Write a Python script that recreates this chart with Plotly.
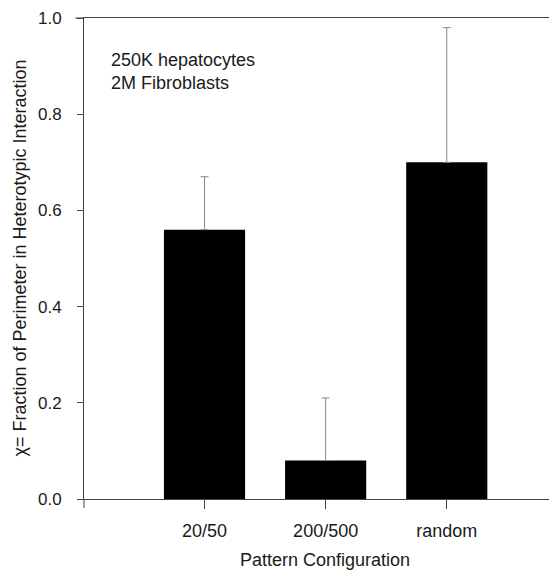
import plotly.graph_objects as go

categories = ["20/50", "200/500", "random"]
chi_values = [0.56, 0.08, 0.70]
chi_err_upper = [0.11, 0.13, 0.28]
y_ticks = [0.0, 0.2, 0.4, 0.6, 0.8, 1.0]
y_tick_labels = ["0.0", "0.2", "0.4", "0.6", "0.8", "1.0"]

FONT = "Liberation Sans, Arial, Helvetica, sans-serif"
AX = "#444444"
TXT = "#1a1a1a"

# page has an 8px body margin; figure is sized so the plot lands where the reference has it
W, H = 549, 562
ML, MT, MB, MR = 76, 10, 71, 0
PW, PH = W - ML - MR, H - MT - MB

xpos = list(range(len(categories)))

fig = go.Figure()
fig.add_trace(go.Bar(
    x=xpos, y=chi_values, width=0.67,
    marker=dict(color="black", line=dict(width=0)),
    error_y=dict(type="data", symmetric=False, array=chi_err_upper,
                 arrayminus=[0] * len(chi_values),
                 color="#8a8a8a", thickness=1, width=4),
    showlegend=False,
))

fig.update_layout(
    width=W, height=H,
    margin=dict(l=ML, r=MR, t=MT, b=MB, pad=0),
    plot_bgcolor="white", paper_bgcolor="white",
    font=dict(family=FONT, size=18, color=TXT),
    xaxis=dict(range=[-0.995, 2.91], tickmode="array", tickvals=xpos,
               ticktext=categories, ticks="outside", ticklen=9,
               ticklabelstandoff=6,
               tickcolor=AX, showline=True, linecolor=AX, linewidth=1,
               mirror=True, showgrid=False, zeroline=False,
               tickfont=dict(size=18)),
    yaxis=dict(range=[0, 1.0], tickmode="array", tickvals=y_ticks,
               ticktext=y_tick_labels, ticks="outside", ticklen=6,
               ticklabelstandoff=12,
               tickcolor=AX, showline=True, linecolor=AX, linewidth=1,
               showgrid=False, zeroline=False, tickfont=dict(size=17)),
)

# left-edge tick extending below the x axis
fig.add_shape(type="line", xref="paper", yref="paper", x0=0, x1=0,
              y0=0, y1=-9 / PH, line=dict(color=AX, width=1))
# top border extension to the left of the y axis
fig.add_shape(type="line", xref="paper", yref="paper", x0=-9 / PW, x1=0,
              y0=1, y1=1, line=dict(color=AX, width=1))

fig.add_annotation(text="250K hepatocytes<br>2M Fibroblasts", xref="paper",
                   yref="paper", x=(109 - 84) / PW, y=1 - (48 - 18) / PH,
                   xanchor="left", yanchor="top", showarrow=False, align="left",
                   font=dict(size=18, color=TXT))
fig.add_annotation(text="χ= Fraction of Perimeter in Heterotypic Interaction",
                   xref="paper", yref="paper", x=(19 - 84) / PW, y=0.5,
                   xanchor="center", yanchor="middle", textangle=-90,
                   showarrow=False, font=dict(size=18, color=TXT))
fig.add_annotation(text="Pattern Configuration", xref="paper", yref="paper",
                   x=(325 - 84) / PW, y=-(560 - 499) / PH, xanchor="center",
                   yanchor="middle", showarrow=False,
                   font=dict(size=18, color=TXT))

fig.write_html("out.html")
